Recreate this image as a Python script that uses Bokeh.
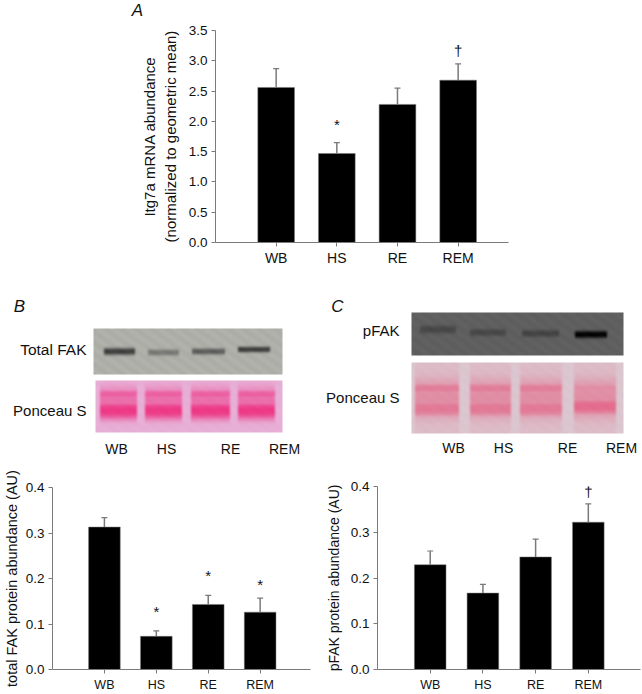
import numpy as np
from bokeh.plotting import figure
from bokeh.layouts import column, row
from bokeh.models import FixedTicker, Label
from bokeh.core.properties import value
from bokeh.embed import file_html
from bokeh.resources import INLINE

FONT = "Liberation Sans"
groups = ["WB", "HS", "RE", "REM"]
positions = [1, 2, 3, 4]

a_vals = [2.56, 1.47, 2.28, 2.68]
a_tops = [2.87, 1.65, 2.55, 2.95]
a_ticks = [0.0, 0.5, 1.0, 1.5, 2.0, 2.5, 3.0, 3.5]
a_marks = [(2, 1.94, "*"), (4, 3.17, "†")]

b_vals = [0.313, 0.073, 0.143, 0.126]
b_tops = [0.334, 0.085, 0.163, 0.157]
b_marks = [(2, 0.127, "*"), (3, 0.206, "*"), (4, 0.186, "*")]

c_vals = [0.229, 0.167, 0.246, 0.322]
c_tops = [0.259, 0.186, 0.285, 0.362]
c_marks = [(4, 0.39, "†")]

bc_ticks = [0.0, 0.1, 0.2, 0.3, 0.4]
GREY = "#7a7a7a"


def bar_panel(w, h, borders, xmax, ymax, ticks, vals, tops, marks, label, bar_w, label_size, standoff, tick_size, xtick_size, xstand):
    left, right, top, bottom = borders
    p = figure(width=w, height=h, x_range=(0, xmax), y_range=(0, ymax),
               output_backend="svg", toolbar_location=None, frame_align=False,
               min_border_left=left, min_border_right=right, min_border_top=top, min_border_bottom=bottom)
    p.outline_line_color = None
    p.grid.visible = False
    p.vbar(x=positions, top=vals, width=bar_w, bottom=0, color="black", line_color=GREY, line_width=0.5)
    p.segment(x0=positions, y0=vals, x1=positions, y1=tops, line_color=GREY, line_width=1.5)
    p.scatter(x=positions, y=tops, marker="dash", size=6, line_color=GREY, line_width=1.2)
    p.text(x=[m[0] for m in marks], y=[m[1] for m in marks], text=[m[2] for m in marks],
           text_font=value(FONT), text_font_size="15px", text_align="center",
           text_baseline="middle", text_color="#111111")
    for ax in (p.xaxis[0], p.yaxis[0]):
        ax.axis_line_color = GREY
        ax.major_tick_line_color = GREY
        ax.minor_tick_line_color = None
        ax.major_tick_in = 0
        ax.major_tick_out = 4
        ax.major_label_text_font = FONT
        ax.major_label_text_color = "#111111"
    p.xaxis.ticker = FixedTicker(ticks=positions)
    p.xaxis.major_label_overrides = dict(zip(positions, groups))
    p.xaxis.major_label_text_font_size = xtick_size
    p.xaxis.major_label_standoff = xstand
    p.yaxis.ticker = FixedTicker(ticks=ticks)
    p.yaxis.major_label_overrides = {t: f"{t:.1f}" for t in ticks}
    p.yaxis.major_label_text_font_size = tick_size
    p.yaxis.major_label_standoff = 4
    p.yaxis.axis_label = label
    p.yaxis.axis_label_text_font = FONT
    p.yaxis.axis_label_text_font_style = "normal"
    p.yaxis.axis_label_text_font_size = label_size
    p.yaxis.axis_label_text_color = "#111111"
    p.yaxis.axis_label_standoff = standoff
    return p


fig_a = bar_panel(642, 260, (215, 134, 10, 38), 4.83, 3.5, a_ticks, a_vals, a_tops, a_marks,
                  "Itg7a mRNA abundance\n(normalized to geometric mean)", 0.605, "15px", 7, "13.5px", "14px", 3)
fig_b = bar_panel(321, 224, (52, 11, 17, 25), 4.97, 0.4, bc_ticks, b_vals, b_tops, b_marks,
                  "total FAK protein abundance (AU)", 0.61, "14.5px", 3, "13.5px", "12.5px", 4)
fig_c = bar_panel(321, 224, (56, 2, 16, 25), 4.99, 0.4, bc_ticks, c_vals, c_tops, c_marks,
                  "pFAK protein abundance (AU)", 0.6, "14px", 6, "13.5px", "12.5px", 4)


def blot(w, h, ground, ink, bands, grain):
    xx, yy = np.meshgrid(np.arange(w) + 0.5, np.arange(h) + 0.5)
    m = np.zeros((h, w))
    for x0, x1, yc, sy, s in bands:
        ex = np.clip((xx - x0) / 3, 0, 1) * np.clip((x1 - xx) / 3, 0, 1)
        ey = np.exp(-np.abs((yy - yc) / sy) ** 2.6)
        m = np.maximum(m, s * ex * ey)
    ground, ink = np.array(ground, float), np.array(ink, float)
    rgb = ground[None, None, :] * (1 - m[..., None]) + ink[None, None, :] * m[..., None]
    mottle = (np.sin(1.7 * xx + 2.3 * yy) + np.sin(2.9 * xx - 1.3 * yy)
              + np.sin(0.7 * xx + 3.1 * yy) + np.sin(0.41 * xx - 0.57 * yy))
    rgb = np.clip(rgb + grain * mottle[..., None], 0, 255)
    out = np.zeros((h, w), dtype=np.uint32)
    v = out.view(dtype=np.uint8).reshape((h, w, 4))
    v[..., :3] = rgb.astype(np.uint8)
    v[..., 3] = 255
    return out


lanes_b = [(3, 43), (48, 88), (94, 136), (141, 181)]
lanes_c = [(2, 49), (57, 101), (107, 152), (161, 206)]

blots = [
    (93, 328, 189, 46, (176, 176, 171), (45, 45, 45),
     [(9, 43, 23, 3.6, .85), (53, 87, 24, 3.2, .42), (97, 133, 23, 3.2, .62), (143, 178, 21, 3.0, .85)], 3),
    (95, 380, 187, 52, (232, 176, 214), (238, 58, 135),
     [(a, b, 22, 15, .55) for a, b in lanes_b] + [(a, b, 14, 5, .68) for a, b in lanes_b]
     + [(a, b, 30, 9, 1.0) for a, b in lanes_b], 1),
    (411, 312, 212, 43, (96, 96, 96), (3, 3, 3),
     [(7, 46, 17, 4, .26), (57, 96, 20, 3.5, .26), (109, 149, 21, 3.5, .3), (162, 197, 22, 3.6, 1.0)], 2),
    (411, 362, 212, 71, (220, 198, 207), (228, 108, 140),
     [(a, b, 35, 40, .2) for a, b in lanes_c] + [(a, b, 36, 22, .62) for a, b in lanes_c]
     + [(a, b, 26, 6, .8) for a, b in lanes_c[:3]] + [(161, 206, 26, 6, .62)]
     + [(a, b, 46, 9, .85) for a, b in lanes_c[:3]] + [(161, 206, 44, 9, 1.0)], 1),
]


def pixel_band(top, height):
    f = figure(width=642, height=height, x_range=(0, 642), y_range=(top + height, top), frame_align=False,
               output_backend="svg", toolbar_location=None, min_border=0,
               x_axis_location=None, y_axis_location=None)
    f.outline_line_color = None
    f.grid.visible = False
    return f


def put(f, t, x, y, al, sz, style="normal"):
    f.add_layout(Label(x=x, y=y, text=t, text_font=FONT, text_font_size=sz, text_align=al,
                       text_baseline="middle", text_font_style=style, text_color="#111111"))


fig_top = pixel_band(0, 20)
put(fig_top, "A", 137, 10, "center", "17px", "italic")

fig_m = pixel_band(280, 190)
for x, y, w, h, ground, ink, bands, grain in blots:
    fig_m.image_rgba(image=[blot(w, h, ground, ink, bands, grain)], x=x, y=y, dw=w, dh=h)

texts = [
    ("Total FAK", 86, 349, "right", "15.5px"), ("Ponceau S", 86, 410, "right", "15px"),
    ("pFAK", 399, 330, "right", "15px"), ("Ponceau S", 399, 397, "right", "15px"),
    ("WB", 116, 448, "center", "14px"), ("HS", 166, 448, "center", "14px"),
    ("RE", 230, 448, "center", "14px"), ("REM", 284, 448, "center", "14px"),
    ("WB", 453, 447, "center", "14px"), ("HS", 503, 447, "center", "14px"),
    ("RE", 567, 447, "center", "14px"), ("REM", 621, 447, "center", "14px"),
]
for t, x, y, al, sz in texts:
    put(fig_m, t, x, y, al, sz)
put(fig_m, "B", 19, 306, "center", "17px", "italic")
put(fig_m, "C", 337, 306, "center", "17px", "italic")

page = column(fig_top, fig_a, fig_m, row(fig_b, fig_c, spacing=0), spacing=0)
open("out.html", "w").write(file_html(page, INLINE))
